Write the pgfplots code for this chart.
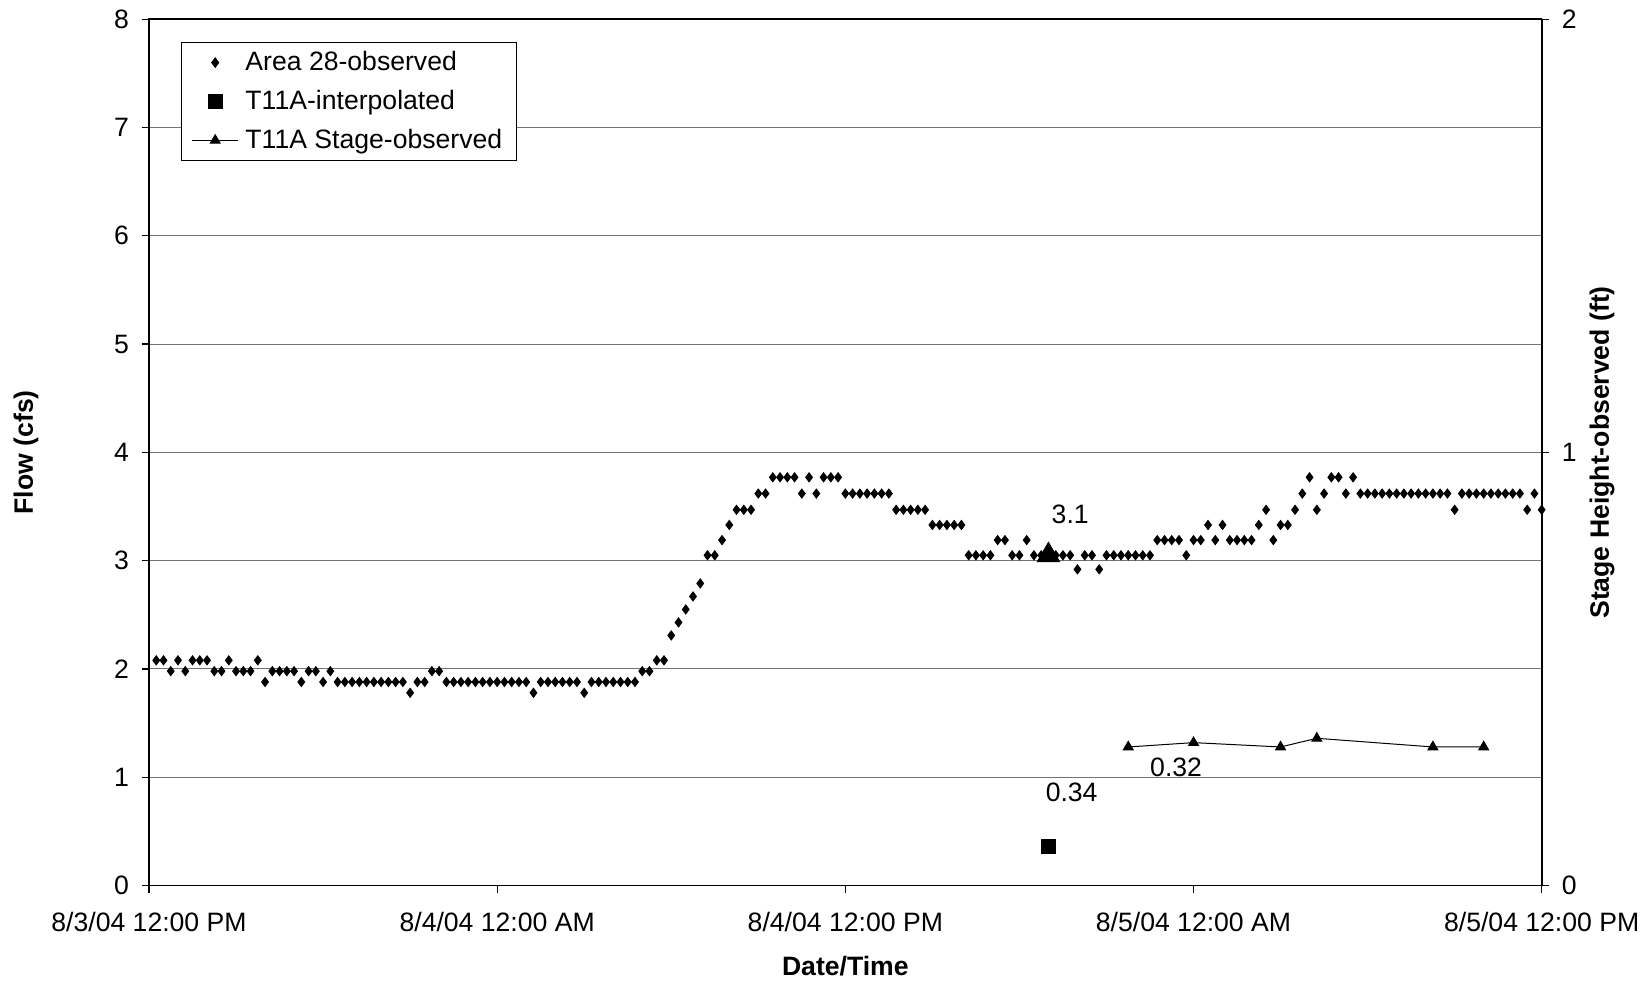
\documentclass[border=0pt]{standalone}
\usepackage{fontspec}
\setmainfont{Liberation Sans}
\usepackage{pgfplots}
\usepackage{pgfplotstable}
\pgfplotsset{compat=1.18}
\newcommand{\fs}{\fontsize{13.3}{16}\selectfont}
\pgfplotsset{
  mymarkleg/.style={legend image code/.code={\path (0cm,0cm) (0.8cm,0cm); \path[##1] plot coordinates {(0.4cm,0cm)};}},
  mylineleg/.style={legend image code/.code={\draw[##1] (0cm,0cm) -- (0.8cm,0cm); \path[##1] plot coordinates {(0.4cm,0cm)};}},
}
\pgfplotstableread{
x y
0.25 2.08
0.5 2.08
0.75 1.98
1.0 2.08
1.25 1.98
1.5 2.08
1.75 2.08
2.0 2.08
2.25 1.98
2.5 1.98
2.75 2.08
3.0 1.98
3.25 1.98
3.5 1.98
3.75 2.08
4.0 1.88
4.25 1.98
4.5 1.98
4.75 1.98
5.0 1.98
5.25 1.88
5.5 1.98
5.75 1.98
6.0 1.88
6.25 1.98
6.5 1.88
6.75 1.88
7.0 1.88
7.25 1.88
7.5 1.88
7.75 1.88
8.0 1.88
8.25 1.88
8.5 1.88
8.75 1.88
9.0 1.78
9.25 1.88
9.5 1.88
9.75 1.98
10.0 1.98
10.25 1.88
10.5 1.88
10.75 1.88
11.0 1.88
11.25 1.88
11.5 1.88
11.75 1.88
12.0 1.88
12.25 1.88
12.5 1.88
12.75 1.88
13.0 1.88
13.25 1.78
13.5 1.88
13.75 1.88
14.0 1.88
14.25 1.88
14.5 1.88
14.75 1.88
15.0 1.78
15.25 1.88
15.5 1.88
15.75 1.88
16.0 1.88
16.25 1.88
16.5 1.88
16.75 1.88
17.0 1.98
17.25 1.98
17.5 2.08
17.75 2.08
18.0 2.31
18.25 2.43
18.5 2.55
18.75 2.67
19.0 2.79
19.25 3.05
19.5 3.05
19.75 3.19
20.0 3.33
20.25 3.47
20.5 3.47
20.75 3.47
21.0 3.62
21.25 3.62
21.5 3.77
21.75 3.77
22.0 3.77
22.25 3.77
22.5 3.62
22.75 3.77
23.0 3.62
23.25 3.77
23.5 3.77
23.75 3.77
24.0 3.62
24.25 3.62
24.5 3.62
24.75 3.62
25.0 3.62
25.25 3.62
25.5 3.62
25.75 3.47
26.0 3.47
26.25 3.47
26.5 3.47
26.75 3.47
27.0 3.33
27.25 3.33
27.5 3.33
27.75 3.33
28.0 3.33
28.25 3.05
28.5 3.05
28.75 3.05
29.0 3.05
29.25 3.19
29.5 3.19
29.75 3.05
30.0 3.05
30.25 3.19
30.5 3.05
30.75 3.05
31.0 3.05
31.25 3.05
31.5 3.05
31.75 3.05
32.0 2.92
32.25 3.05
32.5 3.05
32.75 2.92
33.0 3.05
33.25 3.05
33.5 3.05
33.75 3.05
34.0 3.05
34.25 3.05
34.5 3.05
34.75 3.19
35.0 3.19
35.25 3.19
35.5 3.19
35.75 3.05
36.0 3.19
36.25 3.19
36.5 3.33
36.75 3.19
37.0 3.33
37.25 3.19
37.5 3.19
37.75 3.19
38.0 3.19
38.25 3.33
38.5 3.47
38.75 3.19
39.0 3.33
39.25 3.33
39.5 3.47
39.75 3.62
40.0 3.77
40.25 3.47
40.5 3.62
40.75 3.77
41.0 3.77
41.25 3.62
41.5 3.77
41.75 3.62
42.0 3.62
42.25 3.62
42.5 3.62
42.75 3.62
43.0 3.62
43.25 3.62
43.5 3.62
43.75 3.62
44.0 3.62
44.25 3.62
44.5 3.62
44.75 3.62
45.0 3.47
45.25 3.62
45.5 3.62
45.75 3.62
46.0 3.62
46.25 3.62
46.5 3.62
46.75 3.62
47.0 3.62
47.25 3.62
47.5 3.47
47.75 3.62
48.0 3.47
}\areadata
\pgfplotstableread{
x y
33.75 0.32
36.0 0.33
39.0 0.32
40.25 0.34
44.25 0.32
46.0 0.32
}\stagedata
\begin{document}
\begin{tikzpicture}
\path[use as bounding box] (-74.5pt,-48.7pt) rectangle (748pt,442.8pt);
\begin{axis}[
  at={(0pt,0pt)}, anchor=south west,
  scale only axis, width=696.35pt, height=433.2pt,
  xmin=0, xmax=48, ymin=0, ymax=8,
  xtick={0,12,24,36,48},
  xticklabels={8/3/04 12:00 PM,8/4/04 12:00 AM,8/4/04 12:00 PM,8/5/04 12:00 AM,8/5/04 12:00 PM},
  ytick={0,1,2,3,4,5,6,7,8},
  ymajorgrids, grid style={black!55, line width=0.5pt},
  tick pos=left, tick align=outside, major tick length=3.5pt,
  tick style={black, line width=0.6pt},
  axis line style={black, line width=0.8pt},
  /pgf/number format/assume math mode=true,
  ticklabel style={font=\fs},
  xticklabel style={yshift=-6.3pt},
  yticklabel style={xshift=-3pt},
  xlabel={\textbf{Date/Time}}, ylabel={\textbf{Flow (cfs)}},
  xlabel style={font=\fs, at={(axis description cs:0.5,-0.0928)}, anchor=center},
  ylabel style={font=\fs, at={(axis description cs:-0.0883,0.5)}, anchor=center, rotate=0},
  legend style={font=\fs, draw=black, line width=0.5pt, at={(axis description cs:0.0233,0.9737)}, anchor=north west, row sep=4.3pt, inner xsep=5pt, inner ysep=2.5pt,
    /tikz/every odd column/.append style={column sep=1.5pt}},
  legend cell align=left,
]
\addplot[only marks, mark=diamond*, mark size=2.3pt, black, mymarkleg] table[x=x,y=y]{\areadata};
\addlegendentry{Area 28-observed}
\addplot[only marks, mark=square*, mark size=3.6pt, black, mymarkleg] coordinates {(31.0,0.36)};
\addlegendentry{T11A-interpolated}
\addlegendimage{black, line width=0.5pt, mark=triangle*, mark size=2.8pt, mylineleg}
\addlegendentry{T11A Stage-observed}
\addplot[only marks, mark=triangle*, mark size=6.5pt, black, forget plot] coordinates {(31.0,3.05)};
\node[font=\fs] at (axis cs:31.75,3.43) {3.1};
\node[font=\fs] at (axis cs:31.8,0.86) {0.34};
\node[font=\fs] at (axis cs:35.4,1.095) {0.32};
\end{axis}
\begin{axis}[
  at={(0pt,0pt)}, anchor=south west,
  scale only axis, width=696.35pt, height=433.2pt,
  xmin=0, xmax=48, ymin=0, ymax=2,
  axis x line=none, axis y line*=right,
  ytick={0,1,2},
  tick align=outside, major tick length=3.5pt,
  tick style={black, line width=0.6pt},
  axis line style={black, line width=0.8pt},
  /pgf/number format/assume math mode=true,
  ticklabel style={font=\fs},
  yticklabel style={xshift=3pt},
  ylabel={\textbf{Stage Height-observed (ft)}},
  ylabel style={font=\fs, at={(axis description cs:1.0433,0.5)}, anchor=center, rotate=0},
]
\addplot[black, line width=0.5pt, mark=triangle*, mark size=2.8pt] table[x=x,y=y]{\stagedata};
\end{axis}
\end{tikzpicture}
\end{document}
